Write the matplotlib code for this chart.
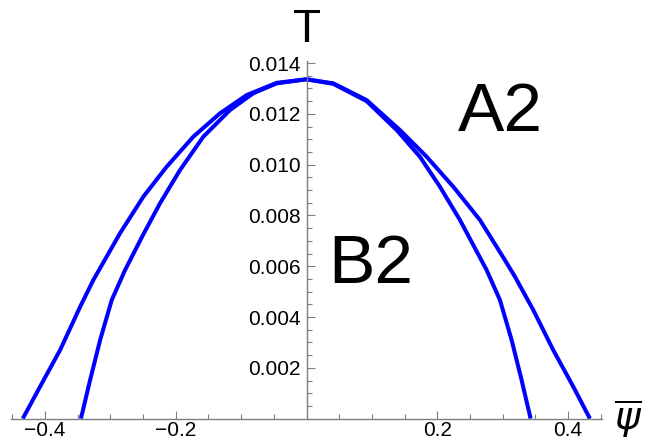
import matplotlib.pyplot as plt
from matplotlib.ticker import MultipleLocator, FixedLocator

plt.rcParams['font.family'] = ['Liberation Sans', 'DejaVu Sans']

# outer curve (A2 / B2 boundary)
psi_outer = [-0.434, -0.4075, -0.3769, -0.3463, -0.326, -0.2852, -0.2495, -0.2138,
             -0.1731, -0.1323, -0.0914, -0.0456, 0.0, 0.041, 0.092, 0.143, 0.1838,
             0.2245, 0.2653, 0.3035, 0.3188, 0.3468, 0.3774, 0.408, 0.4335]
T_outer = [0.0, 0.00126, 0.0027, 0.0044, 0.00546, 0.0073, 0.00874, 0.00992,
           0.0111, 0.01202, 0.01274, 0.01322, 0.01336, 0.0132, 0.01254, 0.01136,
           0.01031, 0.00913, 0.00782, 0.00624, 0.00559, 0.00428, 0.0027, 0.00126, 0.0]

# inner curve
psi_inner = [-0.345, -0.331, -0.3157, -0.2979, -0.2775, -0.2495, -0.224, -0.1934,
             -0.1578, -0.117, -0.0813, -0.0456, 0.0, 0.041, 0.092, 0.138, 0.1735,
             0.2041, 0.2347, 0.2755, 0.2959, 0.3138, 0.329, 0.3428]
T_inner = [0.0, 0.00152, 0.00309, 0.00467, 0.00585, 0.00726, 0.00848, 0.00979,
           0.0111, 0.01215, 0.01281, 0.0132, 0.01336, 0.01318, 0.0125, 0.01136,
           0.01031, 0.00913, 0.00782, 0.00585, 0.00467, 0.00309, 0.00152, 0.0]

x_major = [-0.4, -0.2, 0.2, 0.4]
x_labels = ['\u22120.4', '\u22120.2', '0.2', '0.4']
y_major = [0.002, 0.004, 0.006, 0.008, 0.010, 0.012, 0.014]
y_labels = ['0.002', '0.004', '0.006', '0.008', '0.010', '0.012', '0.014']

fig = plt.figure(figsize=(6.58, 4.41), dpi=100)
ax = fig.add_axes([11 / 658, (441 - 418.6) / 441, 591 / 658, (418.6 - 61) / 441])

for px, py in ((psi_outer, T_outer), (psi_inner, T_inner)):
    ax.plot(px, py, color='#0000ff', lw=2.9, clip_on=False,
            solid_capstyle='butt', solid_joinstyle='round')

ax.set_xlim(-0.452, 0.452)
ax.set_ylim(0, 0.01408)

axis_col = '#7f7f7f'
ax.spines['left'].set_position(('data', 0))
ax.spines['bottom'].set_position(('data', 0))
ax.spines['top'].set_visible(False)
ax.spines['right'].set_visible(False)
for s in ('left', 'bottom'):
    ax.spines[s].set_color(axis_col)
    ax.spines[s].set_linewidth(1.0)

ax.xaxis.set_major_locator(FixedLocator(x_major))
ax.set_xticklabels(x_labels)
ax.xaxis.set_minor_locator(MultipleLocator(0.05))
ax.yaxis.set_major_locator(FixedLocator(y_major))
ax.set_yticklabels(y_labels)
ax.yaxis.set_minor_locator(MultipleLocator(0.0005))

ax.tick_params(which='both', direction='in', color=axis_col, width=0.8,
               labelsize=15, labelcolor='black')
ax.tick_params(which='major', length=6)
ax.tick_params(which='minor', length=3.5)
ax.tick_params(axis='y', which='major', pad=4)
ax.tick_params(axis='x', which='major', pad=2)

ax.text(0, 0.0153, 'T', fontsize=33, ha='center', va='center')
ax.text(0.4916, 0.0, r'$\overline{\psi}$', fontsize=28, ha='center', va='center')
ax.text(0.297, 0.01203, 'A2', fontsize=50, ha='center', va='center')
ax.text(0.099, 0.00604, 'B2', fontsize=50, ha='center', va='center')

fig.savefig('out.png', dpi=100)
